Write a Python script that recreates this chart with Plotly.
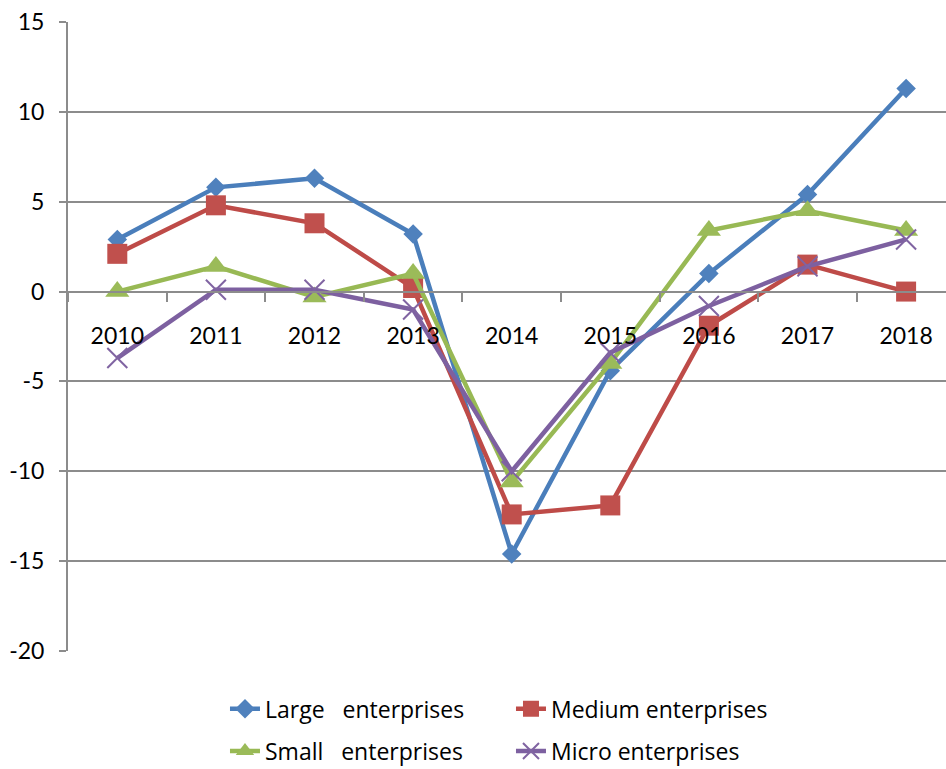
import plotly.graph_objects as go

years = ["2010", "2011", "2012", "2013", "2014", "2015", "2016", "2017", "2018"]
large = [2.9, 5.8, 6.3, 3.2, -14.6, -4.4, 1.0, 5.4, 11.3]
medium = [2.1, 4.8, 3.8, 0.2, -12.4, -11.9, -1.9, 1.5, 0.0]
small = [0.0, 1.4, -0.3, 1.0, -10.6, -4.0, 3.4, 4.5, 3.4]
micro = [-3.7, 0.1, 0.1, -1.0, -10.0, -3.4, -0.8, 1.4, 2.9]

y_ticks = [-20, -15, -10, -5, 0, 5, 10, 15]
y_tick_labels = ["-20", "-15", "-10", "-5", "0", "5", "10", "15"]

series = [
    ("Large\u00a0\u00a0\u00a0enterprises", large, "#4A7EBB", "#4F81BD", "diamond", 15, "legend"),
    ("Medium enterprises", medium, "#BE4B48", "#C0504D", "square", 20, "legend"),
    ("Small\u00a0\u00a0\u00a0enterprises", small, "#98B954", "#9BBB59", "triangle-up", 21, "legend2"),
    ("Micro enterprises", micro, "#7D60A0", "#8064A2", "x-thin", 20, "legend2"),
]

fig = go.Figure()
for name, vals, lc, mc, sym, size, leg in series:
    marker = dict(symbol=sym, size=size, color=mc)
    if sym == "x-thin":
        marker["line"] = dict(color=mc, width=2)
    fig.add_trace(go.Scatter(
        x=years, y=vals, name=name, mode="lines+markers",
        line=dict(color=lc, width=4.5), marker=marker, legend=leg,
    ))

grid = "#8C8C8C"
y_min, y_max = -20, 15
L, R, T, B = 68, 0, 22, 118
plot_w = 946 - L - R
cat_px = 98.6

legend_font = dict(family="Open Sans", size=23, color="#000000")
fig.update_layout(
    width=946, height=769,
    margin=dict(l=L, r=R, t=T, b=B, autoexpand=False),
    paper_bgcolor="white", plot_bgcolor="white",
    font=dict(family="Lato", size=23, color="#000000"),
    xaxis=dict(
        type="category",
        range=[-0.5, -0.5 + plot_w / cat_px],
        anchor="free",
        position=(0 - y_min) / (y_max - y_min),
        showgrid=False, zeroline=False,
        showline=True, linecolor=grid, linewidth=2,
        ticks="outside", tickson="boundaries", ticklen=9,
        tickcolor=grid, tickwidth=2,
        ticklabelstandoff=24,
        tickfont=dict(family="Lato", size=23, color="#000000"),
    ),
    yaxis=dict(
        range=[y_min, y_max],
        tickmode="array", tickvals=y_ticks, ticktext=y_tick_labels,
        showgrid=True, gridcolor=grid, gridwidth=2,
        zeroline=False,
        showline=True, linecolor=grid, linewidth=2,
        ticks="outside", ticklen=7, tickcolor=grid, tickwidth=2,
        ticklabelstandoff=10,
        tickfont=dict(family="Lato", size=23, color="#000000"),
    ),
    legend=dict(
        orientation="h", x=0.1788, xanchor="left", y=-0.092, yanchor="middle",
        entrywidth=241, entrywidthmode="pixels", font=legend_font,
        bgcolor="rgba(0,0,0,0)",
    ),
    legend2=dict(
        orientation="h", x=0.1788, xanchor="left", y=-0.159, yanchor="middle",
        entrywidth=241, entrywidthmode="pixels", font=legend_font,
        bgcolor="rgba(0,0,0,0)",
    ),
    showlegend=True,
)

fig.write_html("out.html")
